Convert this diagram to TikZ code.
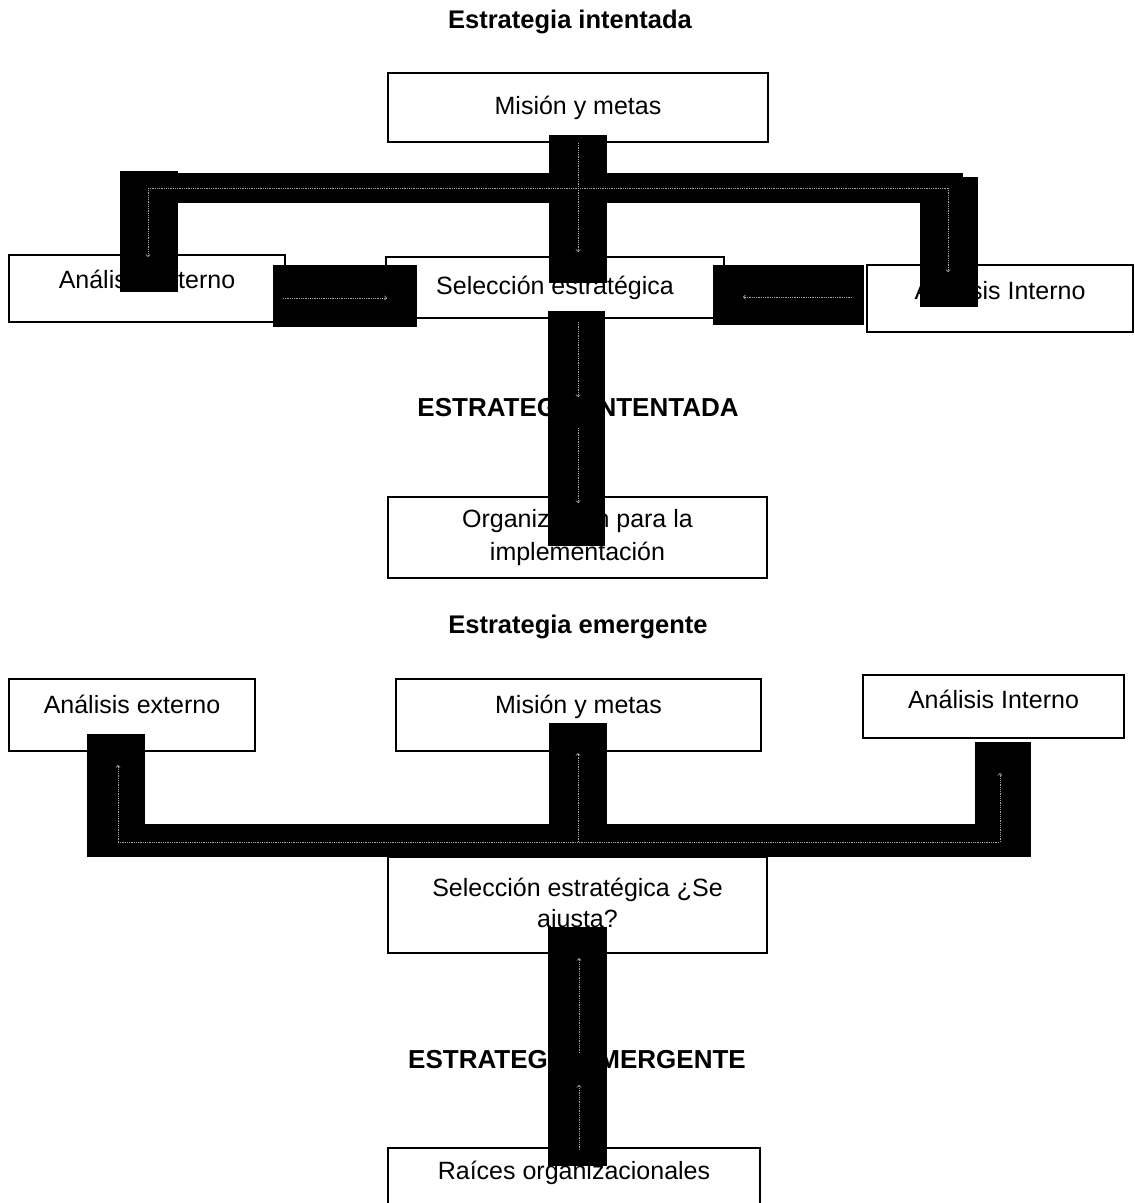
\documentclass[tikz,border=0pt]{standalone}
\usepackage{fontspec}
\setmainfont{Liberation Sans}
\usetikzlibrary{arrows, positioning, calc, shadows}

\begin{document}
\begin{tikzpicture}[x=1pt, y=-1pt]
	\tikzstyle{Box} = [
		draw=black,
		line width=2.5pt,
		fill=white,
		inner sep=0pt,
		align=center,
		drop shadow={shadow xshift=1.2pt, shadow yshift=-1.2pt, fill=black, opacity=1},
		font=\fontsize{25}{33}\selectfont
	]
	\tikzstyle{Title}   = [font=\fontsize{25.5}{28}\selectfont\bfseries]
	\tikzstyle{BigText} = [font=\fontsize{26}{28}\selectfont\bfseries]
	\tikzstyle{Bar}     = [fill=black]
	\tikzstyle{Flow}    = [->, densely dotted, draw=gray!70, line width=0.8pt]

	\useasboundingbox (0,0) rectangle (1135,1203);

	%%%%%%%%%%%%%%%%%%%%%%%%%%===---ESTRATEGIA INTENTADA---===%%%%%%%%%%%%%%%%%%%%%%%%%%
	\node (title1) [Title] at (570,22) {Estrategia intentada};
	\node (mision1) [Box, minimum width=380pt, minimum height=69pt] at (578,107.5) {Misión y metas};
	\node (extA1)   [Box, minimum width=276pt, minimum height=67pt, text depth=18pt] at (147,288.5) {Análisis externo};
	\node (sel1)    [Box, minimum width=338pt, minimum height=61pt] at (555,287.5) {Selección estratégica};
	\node (intA1)   [Box, minimum width=266pt, minimum height=67pt, text depth=16pt] at (1000,298.5) {Análisis Interno};
	\node (label1)  [BigText] at (578,408) {ESTRATEGIA INTENTADA};
	\node (org1)    [Box, minimum width=379pt, minimum height=81pt] at (577.5,537.5) {Organización para la\\implementación};

	% black bars
	\fill[Bar] (120,173) rectangle (963,203);
	\fill[Bar] (120,171) rectangle (178,292);
	\fill[Bar] (549,135) rectangle (607,283);
	\fill[Bar] (920,177) rectangle (978,307);
	\fill[Bar] (273,265) rectangle (417,327);
	\fill[Bar] (713,265) rectangle (864,325);
	\fill[Bar] (548,311) rectangle (605,546);

	% dotted arrows
	\coordinate (hubL1) at (148,188);
	\coordinate (hubM1) at (578,188);
	\coordinate (hubR1) at (948,188);
	\draw[Flow, -] (578,143) -- (hubM1);
	\draw[Flow, -] (hubL1) -- (hubR1);
	\draw[Flow] (hubL1) -- (148,257);
	\draw[Flow] (hubM1) -- (578,252);
	\draw[Flow] (hubR1) -- (948,272);
	\draw[Flow] (283,298) -- (387,298);
	\draw[Flow] (852,297) -- (743,297);
	\draw[Flow] (578,322) -- (578,397);
	\draw[Flow] (578,428) -- (578,503);

	%%%%%%%%%%%%%%%%%%%%%%%%%%===---ESTRATEGIA EMERGENTE---===%%%%%%%%%%%%%%%%%%%%%%%%%%
	\node (title2)  [Title] at (578,627) {Estrategia emergente};
	\node (extA2)   [Box, minimum width=246pt, minimum height=72pt, text depth=21pt] at (132,715) {Análisis externo};
	\node (mision2) [Box, minimum width=365pt, minimum height=72pt, text depth=21pt] at (578.5,715) {Misión y metas};
	\node (intA2)   [Box, minimum width=261pt, minimum height=63pt, text depth=14pt] at (993.5,706.5) {Análisis Interno};
	\node (sel2)    [Box, minimum width=379pt, minimum height=96pt, font=\fontsize{25}{31}\selectfont] at (577.5,905) {Selección estratégica ¿Se\\ajusta?};
	\node (label2)  [BigText] at (577,1060) {ESTRATEGIA EMERGENTE};
	\node (raices)  [Box, minimum width=372pt, minimum height=72pt, text depth=27pt] at (574,1184) {Raíces organizacionales};

	% black bars
	\fill[Bar] (87,824) rectangle (1031,857);
	\fill[Bar] (87,734) rectangle (145,857);
	\fill[Bar] (549,723) rectangle (607,857);
	\fill[Bar] (975,742) rectangle (1031,857);
	\fill[Bar] (548,927) rectangle (607,1166);

	% dotted arrows
	\coordinate (hubL2) at (118,842);
	\coordinate (hubM2) at (578,842);
	\coordinate (hubR2) at (1000,842);
	\draw[Flow, -] (hubL2) -- (hubR2);
	\draw[Flow] (hubL2) -- (118,765);
	\draw[Flow] (hubM2) -- (578,753);
	\draw[Flow] (hubR2) -- (1000,773);
	\draw[Flow] (579,1053) -- (579,958);
	\draw[Flow] (579,1150) -- (579,1085);
\end{tikzpicture}
\end{document}
